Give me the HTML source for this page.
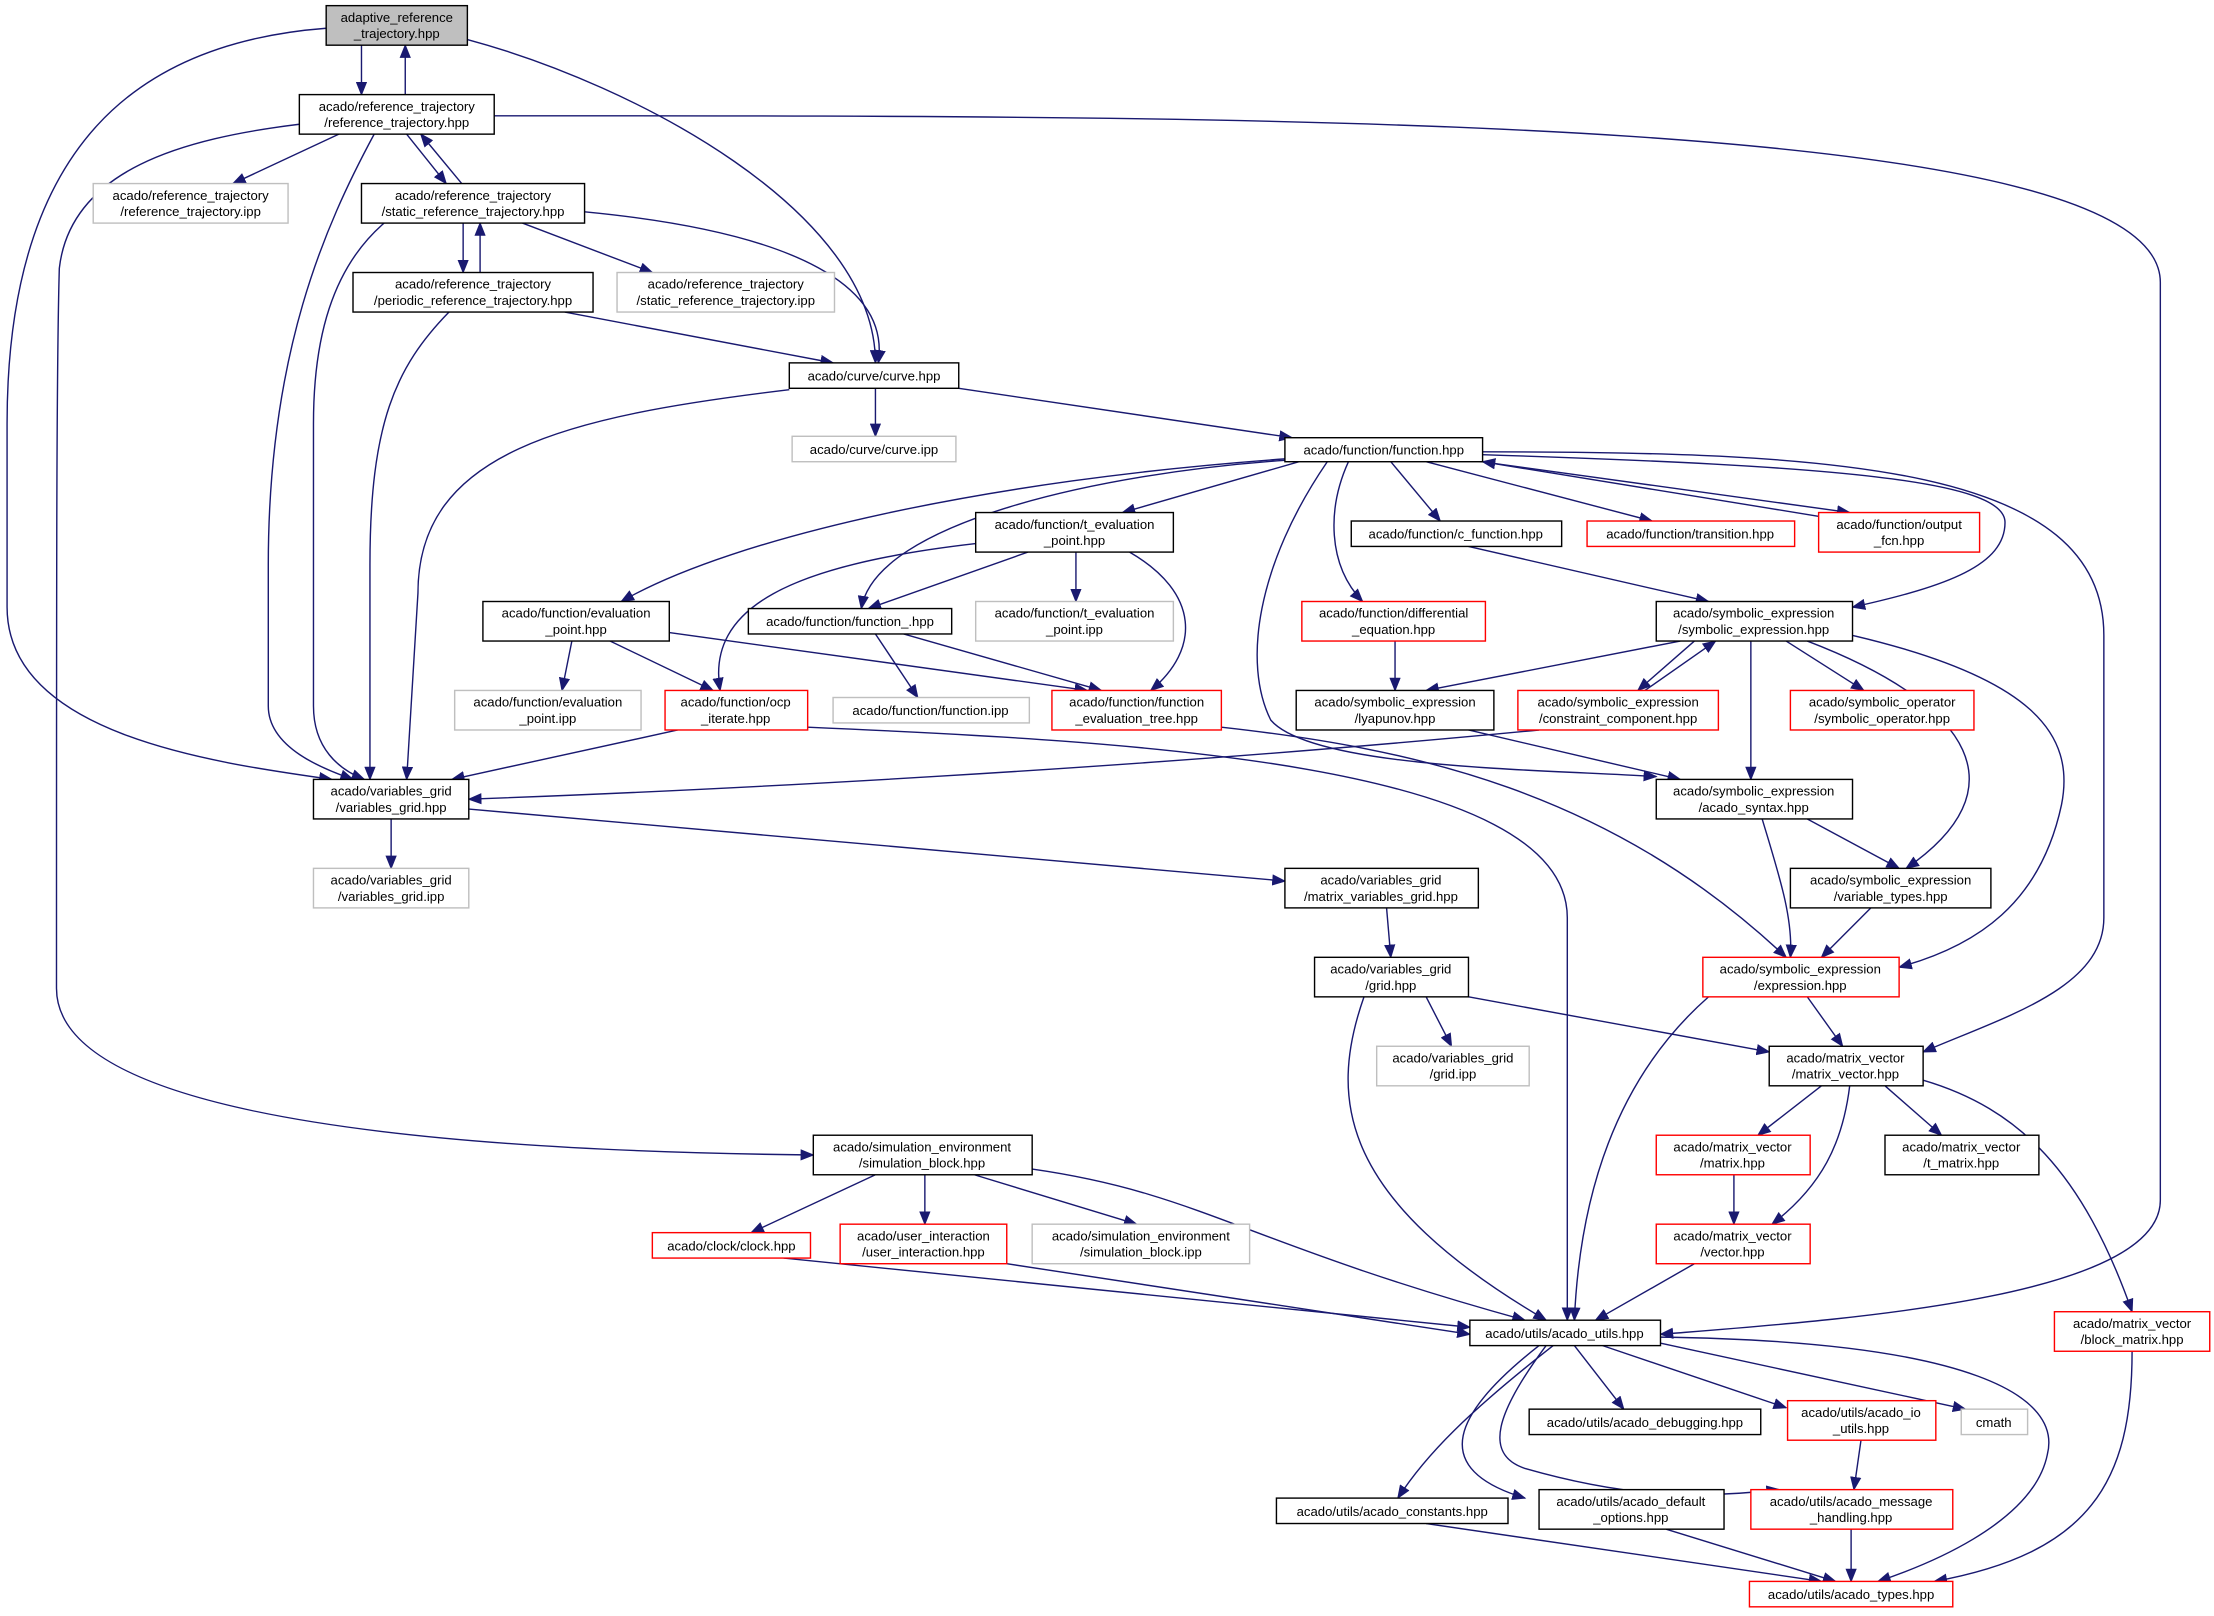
<!DOCTYPE html>
<html><head><meta charset="utf-8"><style>
html,body{margin:0;padding:0;background:#fff}
svg{display:block}
text{font-family:"Liberation Sans",sans-serif;font-size:9.3px;fill:#000;text-anchor:middle}
.b{fill:#fff;stroke:#000;stroke-width:1}
.g{fill:#fff;stroke:#bfbfbf;stroke-width:1}
.r{fill:#fff;stroke:#ff0000;stroke-width:1}
.s{fill:#bfbfbf;stroke:#000;stroke-width:1}
path{fill:none;stroke:#191970;stroke-width:1;marker-end:url(#a)}
</style></head><body>
<svg width="2214" height="1616" viewBox="0 0 1568 1144.5" xmlns="http://www.w3.org/2000/svg">
<defs><marker id="a" markerUnits="userSpaceOnUse" markerWidth="10" markerHeight="8" refX="9" refY="4" orient="auto"><polygon points="0,0 10,4 0,8" fill="#191970"/></marker></defs>
<g id="edges">
<path d="M256,32 L256,67"/>
<path d="M287,67 L287,32"/>
<path d="M231,20 C100,30 5,100 5,300 L5,430 C5,520 150,540 235,552"/>
<path d="M331,28 C450,60 620,150 620,257"/>
<path d="M240,95 L165,130"/>
<path d="M288,95 L316,130"/>
<path d="M327,130 L298,95"/>
<path d="M265,95 C230,160 190,250 190,400 L190,500 C190,530 230,545 250,552"/>
<path d="M212,88 C130,98 50,120 42,190 C40,260 40,400 40,700 C40,790 300,815 576,818"/>
<path d="M350,82 C900,82 1530,80 1530,200 L1530,850 C1530,920 1300,935 1176,945"/>
<path d="M328,158 L328,193"/>
<path d="M340,193 L340,158"/>
<path d="M370,158 L462,193"/>
<path d="M414,150 C570,165 630,205 622,257"/>
<path d="M272,158 C235,190 222,240 222,300 L222,500 C222,530 240,545 258,552"/>
<path d="M400,221 L590,257"/>
<path d="M318,221 C280,260 262,300 262,400 L262,552"/>
<path d="M620,275 L620,309"/>
<path d="M679,275 L915,310"/>
<path d="M559,276 C400,295 296,320 296,420 L288,552"/>
<path d="M910,325 C700,340 520,380 440,426"/>
<path d="M920,327 L795,363"/>
<path d="M910,326 C780,335 620,370 610,431"/>
<path d="M985,327 L1020,369"/>
<path d="M1010,327 L1170,369"/>
<path d="M1035,325 L1310,363"/>
<path d="M1290,366 L1050,327"/>
<path d="M955,327 C940,360 940,400 965,426"/>
<path d="M1050,322 C1300,330 1420,340 1420,370 C1420,400 1380,415 1312,430"/>
<path d="M940,327 C890,400 880,470 900,510 C930,545 1100,545 1173,550"/>
<path d="M1050,320 C1300,320 1490,330 1490,450 L1490,650 C1490,700 1420,720 1362,745"/>
<path d="M728,391 L615,431"/>
<path d="M762,391 L762,426"/>
<path d="M691,385 C560,400 500,430 510,489"/>
<path d="M800,391 C850,420 850,460 815,489"/>
<path d="M405,454 L398,489"/>
<path d="M432,454 L505,489"/>
<path d="M474,448 L770,489"/>
<path d="M620,449 L650,494"/>
<path d="M640,449 L780,489"/>
<path d="M480,517 L320,552"/>
<path d="M572,515 C800,525 1110,540 1110,650 L1110,935"/>
<path d="M865,515 C1000,530 1140,560 1265,678"/>
<path d="M1040,387 L1210,426"/>
<path d="M988,454 L988,489"/>
<path d="M1190,454 L1010,489"/>
<path d="M1200,454 L1160,489"/>
<path d="M1165,489 L1215,454"/>
<path d="M1265,454 L1320,489"/>
<path d="M1240,454 L1240,552"/>
<path d="M1280,454 C1400,500 1430,560 1350,615"/>
<path d="M1312,450 C1440,480 1470,520 1460,570 C1445,640 1400,670 1345,685"/>
<path d="M1090,517 C800,545 500,560 332,566"/>
<path d="M1040,517 L1190,552"/>
<path d="M1280,580 L1345,615"/>
<path d="M1248,580 C1260,620 1270,650 1268,678"/>
<path d="M277,580 L277,615"/>
<path d="M332,573 L910,624"/>
<path d="M982,643 L985,678"/>
<path d="M1325,643 L1290,678"/>
<path d="M1010,706 L1028,741"/>
<path d="M1040,706 L1253,745"/>
<path d="M966,706 C940,780 950,850 1095,935"/>
<path d="M1280,706 L1305,741"/>
<path d="M1210,706 C1160,750 1120,820 1115,935"/>
<path d="M1290,769 L1245,804"/>
<path d="M1335,769 L1375,804"/>
<path d="M1310,769 C1305,810 1290,840 1255,867"/>
<path d="M1362,765 C1430,785 1475,830 1510,929"/>
<path d="M1228,832 L1228,867"/>
<path d="M1200,895 L1130,935"/>
<path d="M620,832 L532,873"/>
<path d="M655,832 L655,867"/>
<path d="M690,832 L805,867"/>
<path d="M731,828 C850,845 880,880 1080,935"/>
<path d="M555,891 L1041,940"/>
<path d="M713,895 L1041,945"/>
<path d="M1115,953 L1150,998"/>
<path d="M1135,953 L1265,997"/>
<path d="M1170,950 L1392,998"/>
<path d="M1100,953 C1040,1000 1010,1030 990,1061"/>
<path d="M1090,953 C1030,1000 1010,1040 1080,1061"/>
<path d="M1095,953 C1060,1000 1050,1030 1080,1040 C1150,1060 1200,1062 1260,1055"/>
<path d="M1176,947 C1400,950 1460,990 1450,1030 C1440,1080 1360,1110 1330,1120"/>
<path d="M1318,1020 L1313,1055"/>
<path d="M1010,1079 L1290,1120"/>
<path d="M1180,1083 L1300,1120"/>
<path d="M1311,1083 L1311,1120"/>
<path d="M1510,957 C1510,1050 1480,1100 1370,1120"/>
</g>
<g id="nodes">
<rect class="s" x="231" y="4" width="100" height="28"/><text x="281" y="15.5">adaptive_reference</text><text x="281" y="27">_trajectory.hpp</text>
<rect class="b" x="212" y="67" width="138" height="28"/><text x="281" y="78.5">acado/reference_trajectory</text><text x="281" y="90">/reference_trajectory.hpp</text>
<rect class="g" x="66" y="130" width="138" height="28"/><text x="135" y="141.5">acado/reference_trajectory</text><text x="135" y="153">/reference_trajectory.ipp</text>
<rect class="b" x="256" y="130" width="158" height="28"/><text x="335" y="141.5">acado/reference_trajectory</text><text x="335" y="153">/static_reference_trajectory.hpp</text>
<rect class="b" x="250" y="193" width="170" height="28"/><text x="335" y="204.5">acado/reference_trajectory</text><text x="335" y="216">/periodic_reference_trajectory.hpp</text>
<rect class="g" x="437" y="193" width="154" height="28"/><text x="514" y="204.5">acado/reference_trajectory</text><text x="514" y="216">/static_reference_trajectory.ipp</text>
<rect class="b" x="559" y="257" width="120" height="18"/><text x="619" y="269.5">acado/curve/curve.hpp</text>
<rect class="g" x="561" y="309" width="116" height="18"/><text x="619" y="321.5">acado/curve/curve.ipp</text>
<rect class="b" x="910" y="310" width="140" height="17"/><text x="980" y="322">acado/function/function.hpp</text>
<rect class="b" x="691" y="363" width="140" height="28"/><text x="761" y="374.5">acado/function/t_evaluation</text><text x="761" y="386">_point.hpp</text>
<rect class="b" x="957" y="369" width="149" height="18"/><text x="1031" y="381.5">acado/function/c_function.hpp</text>
<rect class="r" x="1124" y="369" width="147" height="18"/><text x="1197" y="381.5">acado/function/transition.hpp</text>
<rect class="r" x="1288" y="363" width="114" height="28"/><text x="1345" y="374.5">acado/function/output</text><text x="1345" y="386">_fcn.hpp</text>
<rect class="b" x="342" y="426" width="132" height="28"/><text x="408" y="437.5">acado/function/evaluation</text><text x="408" y="449">_point.hpp</text>
<rect class="b" x="530" y="431" width="144" height="18"/><text x="602" y="443.5">acado/function/function_.hpp</text>
<rect class="g" x="691" y="426" width="140" height="28"/><text x="761" y="437.5">acado/function/t_evaluation</text><text x="761" y="449">_point.ipp</text>
<rect class="r" x="922" y="426" width="130" height="28"/><text x="987" y="437.5">acado/function/differential</text><text x="987" y="449">_equation.hpp</text>
<rect class="b" x="1173" y="426" width="139" height="28"/><text x="1242" y="437.5">acado/symbolic_expression</text><text x="1242" y="449">/symbolic_expression.hpp</text>
<rect class="g" x="322" y="489" width="132" height="28"/><text x="388" y="500.5">acado/function/evaluation</text><text x="388" y="512">_point.ipp</text>
<rect class="r" x="471" y="489" width="101" height="28"/><text x="521" y="500.5">acado/function/ocp</text><text x="521" y="512">_iterate.hpp</text>
<rect class="g" x="590" y="494" width="139" height="18"/><text x="659" y="506.5">acado/function/function.ipp</text>
<rect class="r" x="745" y="489" width="120" height="28"/><text x="805" y="500.5">acado/function/function</text><text x="805" y="512">_evaluation_tree.hpp</text>
<rect class="b" x="918" y="489" width="140" height="28"/><text x="988" y="500.5">acado/symbolic_expression</text><text x="988" y="512">/lyapunov.hpp</text>
<rect class="r" x="1075" y="489" width="142" height="28"/><text x="1146" y="500.5">acado/symbolic_expression</text><text x="1146" y="512">/constraint_component.hpp</text>
<rect class="r" x="1268" y="489" width="130" height="28"/><text x="1333" y="500.5">acado/symbolic_operator</text><text x="1333" y="512">/symbolic_operator.hpp</text>
<rect class="b" x="222" y="552" width="110" height="28"/><text x="277" y="563.5">acado/variables_grid</text><text x="277" y="575">/variables_grid.hpp</text>
<rect class="b" x="1173" y="552" width="139" height="28"/><text x="1242" y="563.5">acado/symbolic_expression</text><text x="1242" y="575">/acado_syntax.hpp</text>
<rect class="g" x="222" y="615" width="110" height="28"/><text x="277" y="626.5">acado/variables_grid</text><text x="277" y="638">/variables_grid.ipp</text>
<rect class="b" x="910" y="615" width="137" height="28"/><text x="978" y="626.5">acado/variables_grid</text><text x="978" y="638">/matrix_variables_grid.hpp</text>
<rect class="b" x="1268" y="615" width="142" height="28"/><text x="1339" y="626.5">acado/symbolic_expression</text><text x="1339" y="638">/variable_types.hpp</text>
<rect class="b" x="931" y="678" width="109" height="28"/><text x="985" y="689.5">acado/variables_grid</text><text x="985" y="701">/grid.hpp</text>
<rect class="r" x="1206" y="678" width="139" height="28"/><text x="1275" y="689.5">acado/symbolic_expression</text><text x="1275" y="701">/expression.hpp</text>
<rect class="g" x="975" y="741" width="108" height="28"/><text x="1029" y="752.5">acado/variables_grid</text><text x="1029" y="764">/grid.ipp</text>
<rect class="b" x="1253" y="741" width="109" height="28"/><text x="1307" y="752.5">acado/matrix_vector</text><text x="1307" y="764">/matrix_vector.hpp</text>
<rect class="b" x="576" y="804" width="155" height="28"/><text x="653" y="815.5">acado/simulation_environment</text><text x="653" y="827">/simulation_block.hpp</text>
<rect class="r" x="1173" y="804" width="109" height="28"/><text x="1227" y="815.5">acado/matrix_vector</text><text x="1227" y="827">/matrix.hpp</text>
<rect class="b" x="1335" y="804" width="109" height="28"/><text x="1389" y="815.5">acado/matrix_vector</text><text x="1389" y="827">/t_matrix.hpp</text>
<rect class="r" x="462" y="873" width="112" height="18"/><text x="518" y="885.5">acado/clock/clock.hpp</text>
<rect class="r" x="595" y="867" width="118" height="28"/><text x="654" y="878.5">acado/user_interaction</text><text x="654" y="890">/user_interaction.hpp</text>
<rect class="g" x="731" y="867" width="154" height="28"/><text x="808" y="878.5">acado/simulation_environment</text><text x="808" y="890">/simulation_block.ipp</text>
<rect class="r" x="1173" y="867" width="109" height="28"/><text x="1227" y="878.5">acado/matrix_vector</text><text x="1227" y="890">/vector.hpp</text>
<rect class="b" x="1041" y="935" width="135" height="18"/><text x="1108" y="947.5">acado/utils/acado_utils.hpp</text>
<rect class="r" x="1455" y="929" width="110" height="28"/><text x="1510" y="940.5">acado/matrix_vector</text><text x="1510" y="952">/block_matrix.hpp</text>
<rect class="b" x="1083" y="998" width="164" height="18"/><text x="1165" y="1010.5">acado/utils/acado_debugging.hpp</text>
<rect class="r" x="1266" y="992" width="105" height="28"/><text x="1318" y="1003.5">acado/utils/acado_io</text><text x="1318" y="1015">_utils.hpp</text>
<rect class="g" x="1389" y="998" width="47" height="18"/><text x="1412" y="1010.5">cmath</text>
<rect class="b" x="904" y="1061" width="164" height="18"/><text x="986" y="1073.5">acado/utils/acado_constants.hpp</text>
<rect class="b" x="1090" y="1055" width="131" height="28"/><text x="1155" y="1066.5">acado/utils/acado_default</text><text x="1155" y="1078">_options.hpp</text>
<rect class="r" x="1240" y="1055" width="143" height="28"/><text x="1311" y="1066.5">acado/utils/acado_message</text><text x="1311" y="1078">_handling.hpp</text>
<rect class="r" x="1239" y="1120" width="144" height="18"/><text x="1311" y="1132.5">acado/utils/acado_types.hpp</text>
</g>
</svg>
</body></html>
